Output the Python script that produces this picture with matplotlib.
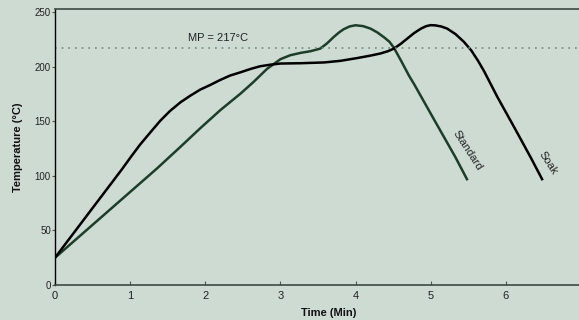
import matplotlib
matplotlib.use("Agg")
import matplotlib.pyplot as plt

soak_t = [0, 0.45, 0.89, 1.0, 1.13, 1.27, 1.4, 1.53, 1.67, 1.8, 1.93, 2.07, 2.2, 2.33, 2.47,
          2.6, 2.73, 2.87, 3.0, 3.27, 3.58, 3.8, 4.02, 4.2, 4.33, 4.43, 4.51, 4.6, 4.69, 4.78,
          4.87, 4.94, 5.0, 5.06, 5.14, 5.22, 5.33, 5.44, 5.54, 5.63, 5.71, 5.89, 6.1, 6.33, 6.49]
soak_y = [25, 66, 106, 116.5, 128.5, 140, 150.5, 159.5, 167.5, 173.5, 179, 183.5, 188, 192, 195,
          198, 200.5, 202, 203, 203.3, 204, 205.5, 208, 210.3, 212.2, 214.3, 216.7, 221, 226, 231,
          235, 237.3, 238.2, 238, 237, 235, 230, 223, 215, 205.5, 196, 172, 146, 117, 96]

std_t = [0, 0.68, 1.36, 1.67, 1.93, 2.2, 2.47, 2.64, 2.82, 3.0, 3.13, 3.27, 3.4, 3.53, 3.62,
         3.71, 3.78, 3.84, 3.92, 4.0, 4.1, 4.2, 4.29, 4.38, 4.45, 4.51, 4.61, 4.71, 4.78, 5.05,
         5.33, 5.49]
std_y = [25, 66, 107, 126.7, 143.5, 160.3, 175.5, 186, 198, 207, 210.6, 212.8, 214.3, 216.7, 221.5,
         227.4, 231.5, 234.4, 237, 238.1, 237.3, 235, 231.5, 227, 223, 217.5, 205, 192, 184, 151,
         117, 96]

mp_value = 217
mp_label = "MP = 217°C"
x_ticks = [0, 1, 2, 3, 4, 5, 6, 7]
x_tick_labels = ["0", "1", "2", "3", "4", "5", "6", ""]
y_ticks = [0, 50, 100, 150, 200, 250]

bg = "#cddbd3"
green = "#1e3d29"

plt.rcParams['font.family'] = ['Liberation Sans', 'DejaVu Sans']

fig = plt.figure(figsize=(5.79, 3.2), dpi=100, facecolor=bg)
ax = fig.add_axes([55 / 579, 35 / 320, 526 / 579, 276 / 320], facecolor=bg)

ax.plot(std_t, std_y, color=green, lw=1.8, solid_capstyle='butt', solid_joinstyle='round')
ax.plot(soak_t, soak_y, color="black", lw=1.8, solid_capstyle='butt', solid_joinstyle='round')
ax.axhline(mp_value, color="#6f8a7b", lw=1.2, ls=(0, (1, 3)))

ax.text(2.17, 226, mp_label, ha="center", va="center", fontsize=8, color="#222222")
ax.text(5.49, 123, "Standard", rotation=-57, ha="center", va="center", fontsize=8,
        color="#222222", rotation_mode="anchor")
ax.text(6.56, 112, "Soak", rotation=-57, ha="center", va="center", fontsize=8,
        color="#222222", rotation_mode="anchor")

ax.set_xlim(0, 7)
ax.set_ylim(0, 253)
ax.set_xticks(x_ticks)
ax.set_xticklabels(x_tick_labels)
ax.set_yticks(y_ticks)
ax.tick_params(axis='x', direction='in', length=3, width=0.8, color="#555555",
               labelsize=8, labelcolor="#222222", pad=4)
ax.tick_params(axis='y', direction='out', length=2, width=0.8, color="#555555",
               labelsize=7, labelcolor="#222222", pad=1)

for s in ['top', 'bottom']:
    ax.spines[s].set_color("#3d4a43")
    ax.spines[s].set_linewidth(1.2)
ax.spines['left'].set_color("black")
ax.spines['left'].set_linewidth(1.0)
ax.spines['right'].set_visible(False)

ax.set_xlabel("Time (Min)", fontsize=8, fontweight="bold", color="#111111")
ax.xaxis.set_label_coords(0.52, -0.085)
ax.set_ylabel("Temperature (°C)", fontsize=8, fontweight="bold", color="#111111")
ax.yaxis.set_label_coords(-0.06, 0.5)

fig.savefig("out.png", dpi=100, facecolor=bg)
